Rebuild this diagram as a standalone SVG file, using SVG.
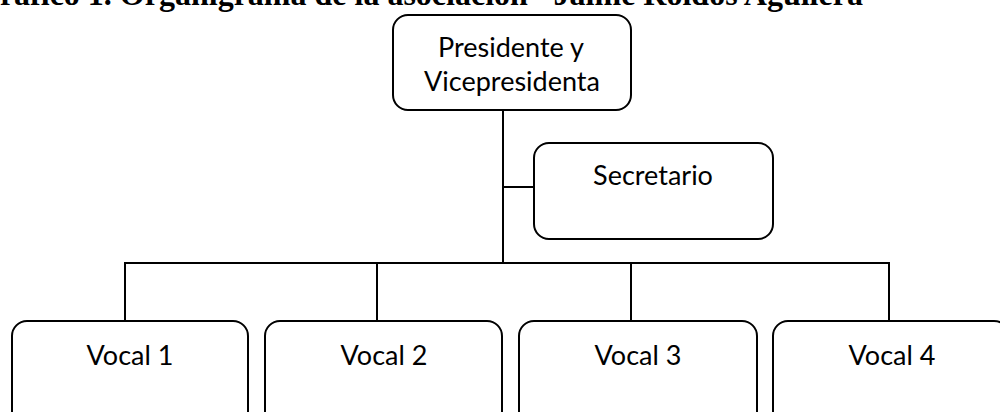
<svg xmlns="http://www.w3.org/2000/svg" width="1000" height="412" viewBox="0 0 1000 412">
<style>
.box{fill:#fff;stroke:#000;stroke-width:2}
.lbl{font-family:Lato,"Open Sans",sans-serif;font-size:27px;fill:#000;text-anchor:middle}
.title{font-family:"Liberation Serif","Times New Roman",serif;font-weight:bold;font-size:32px;fill:#000}
.conn line{stroke:#000;stroke-width:2}
</style>
<rect width="1000" height="412" fill="#fff"/>
<text class="title" x="-25" y="5">Gráfico 1. Organigrama de la asociación "Jaime Roldós Aguilera"</text>
<g id="connectors" class="conn">
<line x1="503" y1="110" x2="503" y2="263"/>
<line x1="503" y1="187" x2="534" y2="187"/>
<line x1="124" y1="263" x2="890" y2="263"/>
<line x1="125" y1="263" x2="125" y2="321"/>
<line x1="377" y1="263" x2="377" y2="321"/>
<line x1="631" y1="263" x2="631" y2="321"/>
<line x1="889" y1="263" x2="889" y2="321"/>
</g>
<g id="presidente">
<rect class="box" x="393" y="15" width="238" height="95" rx="15"/>
<text class="lbl" x="511" y="57">Presidente y</text>
<text class="lbl" x="512" y="91">Vicepresidenta</text>
</g>
<g id="secretario">
<rect class="box" x="534" y="143" width="239" height="96" rx="15"/>
<text class="lbl" x="653" y="185">Secretario</text>
</g>
<g id="vocal1">
<rect class="box" x="12" y="321" width="236" height="110" rx="15"/>
<text class="lbl" x="130" y="365">Vocal 1</text>
</g>
<g id="vocal2">
<rect class="box" x="265" y="321" width="237" height="110" rx="15"/>
<text class="lbl" x="384" y="365">Vocal 2</text>
</g>
<g id="vocal3">
<rect class="box" x="519" y="321" width="238" height="110" rx="15"/>
<text class="lbl" x="638" y="365">Vocal 3</text>
</g>
<g id="vocal4">
<rect class="box" x="773" y="321" width="236" height="110" rx="15"/>
<text class="lbl" x="892" y="365">Vocal 4</text>
</g>
</svg>
